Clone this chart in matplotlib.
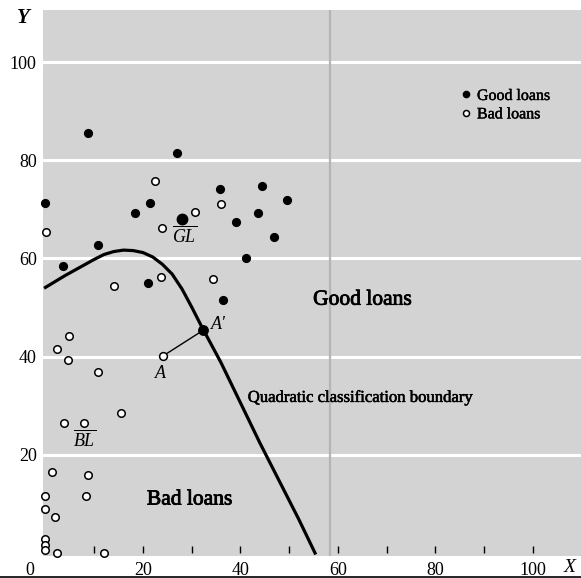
import matplotlib
matplotlib.use("Agg")
import matplotlib.pyplot as plt
import matplotlib.patheffects as pe

plt.rcParams['font.family'] = ['Liberation Serif', 'DejaVu Serif']
plt.rcParams['mathtext.fontset'] = 'custom'
plt.rcParams['mathtext.rm'] = 'Liberation Serif'
plt.rcParams['mathtext.it'] = 'Liberation Serif:italic'

# good loans (filled dots)
good_x = [0, 8.7, 26.9, 21.4, 18.4, 35.9, 44.5, 49.6, 43.7, 39.0, 46.9, 41.1, 10.7, 3.7, 21.1, 36.5]
good_y = [71.2, 85.5, 81.4, 71.3, 69.2, 74.1, 74.8, 71.9, 69.2, 67.4, 64.4, 60.0, 62.7, 58.5, 54.9, 51.5]

# bad loans (open circles)
bad_x = [22.5, 30.7, 36.0, 0.1, 24.0, 14.1, 23.7, 34.4, 4.8, 2.4, 4.7, 10.8, 15.6, 3.8, 8.0,
         1.4, 8.8, 0, 8.3, 0, 1.9, 0, 0, 0, 2.4, 12.0]
bad_y = [75.8, 69.5, 71.1, 65.4, 66.3, 54.4, 56.3, 55.9, 44.3, 41.5, 39.4, 36.9, 28.6, 26.5, 26.5,
         16.6, 15.9, 11.6, 11.7, 8.9, 7.3, 2.8, 1.6, 0.6, 0.1, 0.1]

# group means and the projected point
gl_mean = (28.1, 68.0)
point_a = (24.2, 40.2)
point_a2 = (32.4, 45.4)

# quadratic classification boundary
bound_x = [0, 2, 4, 6, 8, 10, 12, 14, 16, 18, 20, 22, 24, 26, 28, 30, 32, 34, 36, 40, 44, 48, 52, 55.3]
bound_y = [54.1, 55.3, 56.5, 57.6, 58.7, 59.8, 60.8, 61.4, 61.7, 61.6, 61.2, 60.3, 58.8, 56.8,
           53.8, 50.1, 46.2, 42.5, 38.8, 30.6, 22.4, 14.6, 6.8, 0]

x_ticks = [20, 40, 60, 80, 100]
y_ticks = [20, 40, 60, 80, 100]
minor_x = [10, 20, 30, 40, 50, 60, 70, 80, 90, 100]

W, H = 581, 578
fig = plt.figure(figsize=(W / 100, H / 100), dpi=100)
ax = fig.add_axes([43 / W, 22 / H, 538 / W, 546 / H])
ax.set_facecolor('#d3d3d3')
ax.set_xlim(-0.5, 109.85)
ax.set_ylim(-0.6, 110.6)
for s in ax.spines.values():
    s.set_visible(False)

for yv in y_ticks:
    ax.axhline(yv, color='white', lw=2.2, zorder=0.5)
ax.axvline(58.3, color='#b5b5b5', lw=1.6, zorder=0.6)

ax.vlines(minor_x, 0, 1.5, color='black', lw=1.0, zorder=2)

ax.set_xticks(x_ticks)
ax.set_yticks(y_ticks)
ax.tick_params(length=0, labelsize=13)
ax.tick_params(axis='x', pad=4.5)
ax.tick_params(axis='y', pad=4.5)

ax.annotate('0', xy=(0, 0), xycoords=('data', 'axes fraction'), xytext=(-11, -4.5),
            textcoords='offset points', ha='center', va='top', fontsize=13)
ax.annotate('X', xy=(107.5, 0), xycoords=('data', 'axes fraction'), xytext=(0, -8),
            textcoords='offset points', ha='center', va='center', fontsize=14, style='italic')
ax.annotate('Y', xy=(0, 1), xycoords='axes fraction', xytext=(-14.5, -5.5),
            textcoords='offset points', ha='center', va='center', fontsize=15, style='italic',
            fontweight='bold')

ax.plot(bound_x, bound_y, color='black', lw=2.3, zorder=3, clip_on=False)
ax.plot([point_a[0], point_a2[0]], [point_a[1], point_a2[1]], color='black', lw=1.0, zorder=3)

ax.plot(good_x, good_y, 'o', color='black', ms=5.6, label='Good loans', zorder=4, clip_on=False)
ax.plot(bad_x, bad_y, 'o', mfc='white', mec='black', mew=1.1, ms=5.4, label='Bad loans',
        zorder=4, clip_on=False)
ax.plot(*gl_mean, 'o', color='black', ms=7.5, zorder=4)
ax.plot(*point_a2, 'o', color='black', ms=6.8, zorder=5)
ax.plot(*point_a, 'o', mfc='white', mec='black', mew=1.1, ms=5.6, zorder=5)

stroke = [pe.withStroke(linewidth=0.6, foreground='black')]
ax.text(54.9, 51.5, 'Good loans', fontsize=15.5, va='center', ha='left', path_effects=stroke)
ax.text(20.8, 10.8, 'Bad loans', fontsize=15.5, va='center', ha='left', path_effects=stroke)
ax.text(41.5, 31.6, 'Quadratic classification boundary', fontsize=12, va='center', ha='left',
        path_effects=[pe.withStroke(linewidth=0.4, foreground='black')])
ax.text(28.6, 64.6, r'$\overline{GL}$', fontsize=13, ha='center', va='center')
ax.text(8.1, 23.0, r'$\overline{BL}$', fontsize=13, ha='center', va='center')
ax.text(35.4, 46.6, "A'", fontsize=13, style='italic', ha='center', va='center')
ax.text(23.5, 36.6, 'A', fontsize=13, style='italic', ha='center', va='center')

leg = ax.legend(loc='upper left', bbox_to_anchor=((461 - 43) / 538, (556 - 88) / 546),
                handlelength=0.6, handletextpad=0.4, labelspacing=0.15, borderpad=0,
                borderaxespad=0, frameon=False, fontsize=11.5, markerscale=0.8)
for t in leg.get_texts():
    t.set_path_effects([pe.withStroke(linewidth=0.3, foreground='black')])

fig.add_artist(plt.Line2D([0, 1], [1.5 / H, 1.5 / H], color='black', lw=1.2))

fig.savefig('out.png', dpi=100)
